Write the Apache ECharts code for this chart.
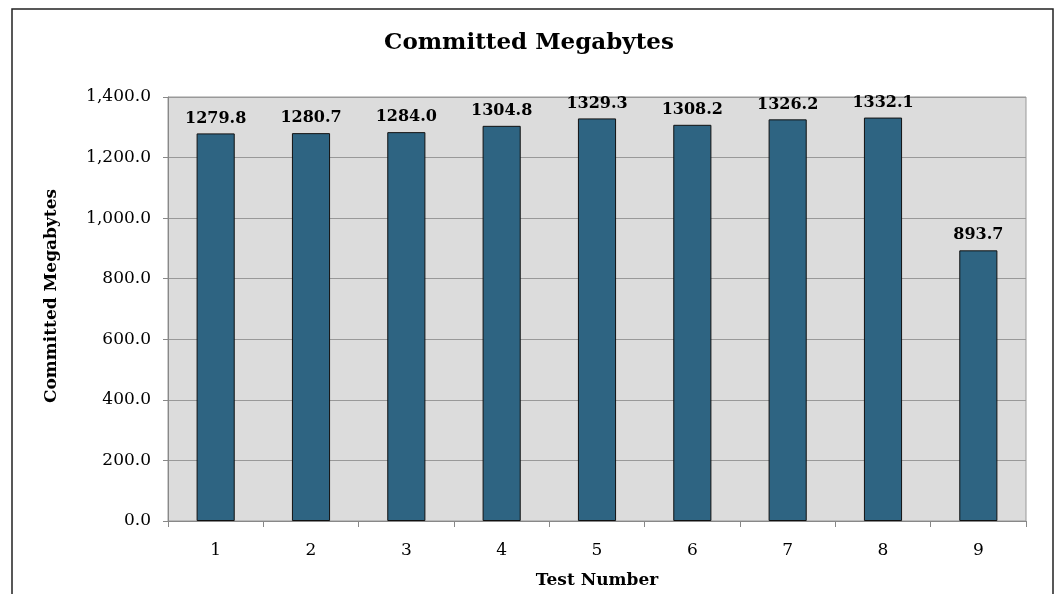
<!DOCTYPE html>
<html>
<head>
<meta charset="utf-8">
<title>Committed Megabytes</title>
<script src="https://cdn.jsdelivr.net/npm/echarts@6/dist/echarts.min.js"></script>
<style>
	html, body { margin: 0; padding: 0; background: #ffffff; }
	#chart { width: 1058px; height: 594px; }
</style>
</head>
<body>
<div id="chart"></div>
<script>
// test numbers on the x axis
var tests = ['1', '2', '3', '4', '5', '6', '7', '8', '9']
// committed megabytes per test
var committed = [1279.8, 1280.7, 1284.0, 1304.8, 1329.3, 1308.2, 1326.2, 1332.1, 893.7]

// the source text is drawn wide, DejaVu Serif is closer than Times here
var serif = '"DejaVu Serif", "Liberation Serif", serif'

var myChart = echarts.init(document.getElementById('chart'))
var option = {
	animation: false,
	title: {
		text: 'Committed Megabytes',
		left: 'center',
		top: 32,
		padding: 0,
		textStyle: {
			fontFamily: serif,
			fontSize: 23,
			fontWeight: 'bold',
			color: '#000'
		}
	},
	graphic: [
		{ // outer chart frame, bottom runs off the picture
			type: 'rect',
			shape: { x: 12, y: 9, width: 1041, height: 600 },
			style: { fill: 'none', stroke: '#222', lineWidth: 1.5 },
			silent: true
		}
	],
	grid: {
		left: 168,
		right: 32,
		top: 97,
		bottom: 73,
		show: true,
		backgroundColor: '#dcdcdc',
		borderColor: '#999',
		borderWidth: 1
	},
	xAxis: {
		type: 'category',
		data: tests,
		name: 'Test Number',
		nameLocation: 'middle',
		nameGap: 51,
		nameTextStyle: {
			fontFamily: serif,
			fontSize: 17,
			fontWeight: 'bold',
			color: '#000'
		},
		axisLine: { lineStyle: { color: '#888', width: 1 } },
		axisTick: { show: true, length: 6, lineStyle: { color: '#888' } },
		axisLabel: {
			margin: 21,
			fontFamily: serif,
			fontSize: 17,
			color: '#000'
		}
	},
	yAxis: {
		type: 'value',
		min: 0,
		max: 1400,
		interval: 200,
		name: 'Committed Megabytes',
		nameLocation: 'middle',
		nameGap: 108,
		nameTextStyle: {
			fontFamily: serif,
			fontSize: 17,
			fontWeight: 'bold',
			color: '#000',
			padding: [0, 0, 0, 26] // nudges the name up a little
		},
		axisLine: { show: true, lineStyle: { color: '#888', width: 1 } },
		axisTick: { show: true, length: 5, lineStyle: { color: '#888' } },
		splitLine: { lineStyle: { color: '#999', width: 1 } },
		axisLabel: {
			margin: 17,
			fontFamily: serif,
			fontSize: 17,
			color: '#000',
			formatter: function (v) {
				return v.toLocaleString('en-US', { minimumFractionDigits: 1, maximumFractionDigits: 1 })
			}
		}
	},
	series: [
		{
			name: 'Committed Megabytes',
			type: 'bar',
			data: committed,
			barWidth: '40%',
			itemStyle: {
				color: '#2e6482',
				borderColor: '#111',
				borderWidth: 1
			},
			label: {
				show: true,
				position: 'top',
				distance: 7,
				fontFamily: serif,
				fontSize: 16,
				fontWeight: 'bold',
				color: '#000',
				formatter: function (p) {
					return p.value.toFixed(1)
				}
			}
		}
	]
}
myChart.setOption(option)
</script>
</body>
</html>
